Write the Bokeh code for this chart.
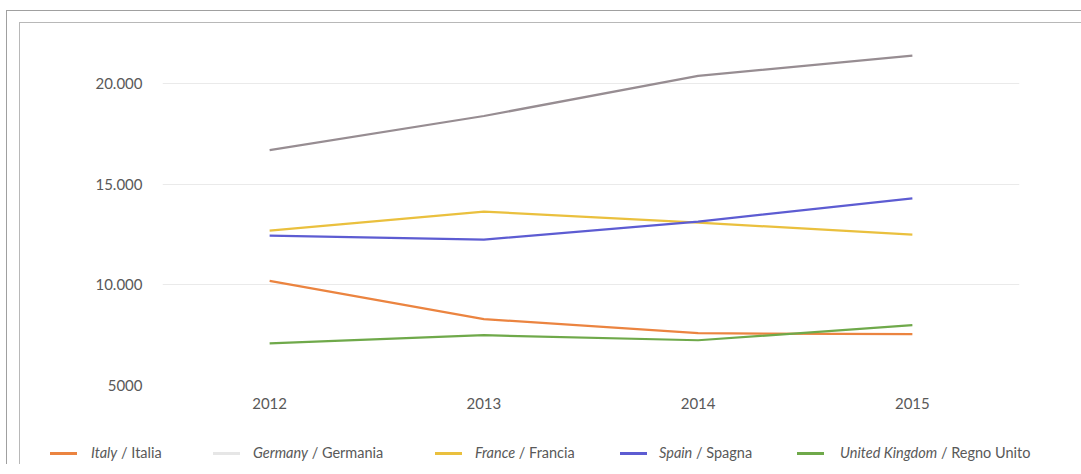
from bokeh.plotting import figure
from bokeh.layouts import column
from bokeh.models import FixedTicker, Range1d, Div
from bokeh.embed import file_html
from bokeh.resources import INLINE

years = [2012, 2013, 2014, 2015]
italy = [10200, 8300, 7600, 7550]
germany = [16700, 18400, 20400, 21400]
france = [12700, 13650, 13100, 12500]
spain = [12450, 12250, 13150, 14300]
uk = [7100, 7500, 7250, 8000]

names_it = ["Italy", "Germany", "France", "Spain", "United Kingdom"]
names_loc = ["Italia", "Germania", "Francia", "Spagna", "Regno Unito"]
y_ticks = [5000, 10000, 15000, 20000]
y_tick_labels = ["5000", "10.000", "15.000", "20.000"]

series = [italy, germany, france, spain, uk]
line_colors = ["#EB8440", "#978D92", "#EAC03E", "#5D5CD2", "#6FA94A"]
swatch_colors = ["#EB8440", "#E6E6E6", "#EAC03E", "#5D5CD2", "#6FA94A"]

# legend layout, canvas x of the reference
X0 = 20          # left edge of the inner chart box
swatch_x = [50, 213, 435, 620, 797]
text_x = [91, 253, 475, 659, 840]

FONT = "Lato"
TXT = "#595959"
W = 1061

p = figure(frame_width=857, frame_height=362, output_backend="svg", toolbar_location=None,
           x_range=Range1d(2011.5, 2015.5), y_range=Range1d(5000, 23000),
           min_border_left=142, min_border_right=W - 142 - 857, min_border_top=0,
           min_border_bottom=31)
p.outline_line_color = None
p.background_fill_color = "white"
p.border_fill_color = "white"

p.xaxis.ticker = FixedTicker(ticks=years)
p.xaxis.major_label_overrides = {y: str(y) for y in years}
p.yaxis.ticker = FixedTicker(ticks=y_ticks)
p.yaxis.major_label_overrides = {t: l for t, l in zip(y_ticks, y_tick_labels)}
for ax in (p.xaxis, p.yaxis):
    ax.axis_line_color = None
    ax.major_tick_line_color = None
    ax.minor_tick_line_color = None
    ax.major_tick_out = 0
    ax.major_tick_in = 0
    ax.major_label_text_font = FONT
    ax.major_label_text_font_size = "15px"
    ax.major_label_text_color = TXT
p.xaxis.major_label_standoff = 12
p.yaxis.major_label_standoff = 20
p.xgrid.grid_line_color = None
p.ygrid.grid_line_color = "#EAEAEA"
p.ygrid.grid_line_width = 1

for vals, c in zip(series, line_colors):
    p.line(years, vals, line_color=c, line_width=2.25)

# legend strip
LH = 48
CY = 37  # legend centre, pixels from top of strip
parts = []
for i in range(len(names_it)):
    parts.append(
        f'<span style="position:absolute;left:{swatch_x[i]-X0}px;top:{CY-1.5}px;'
        f'width:27px;height:3px;background:{swatch_colors[i]}"></span>'
        f'<span style="position:absolute;left:{text_x[i]-X0}px;top:{CY-9}px;'
        f'line-height:18px;white-space:nowrap"><i>{names_it[i]}</i> / {names_loc[i]}</span>'
    )
html = (f'<div style="position:relative;width:{W}px;height:{LH}px;font-family:{FONT};'
        f'font-size:14.5px;color:{TXT}">' + "".join(parts) + "</div>")
q = Div(text=html, width=W, height=LH, margin=0)

inner = column(p, q, spacing=0,
               styles={"border-left": "1px solid #B8B8B8", "border-top": "1px solid #B8B8B8",
                       "border-right": "none", "border-bottom": "none"})
outer = column(inner, spacing=0,
               styles={"border-left": "1px solid #A0A0A0", "border-top": "1px solid #A0A0A0",
                       "border-right": "none", "border-bottom": "none",
                       "padding-left": "12px", "padding-top": "11px",
                       "margin-left": "6px", "margin-top": "10px", "overflow": "hidden"})

open("out.html", "w").write(file_html(outer, INLINE))
